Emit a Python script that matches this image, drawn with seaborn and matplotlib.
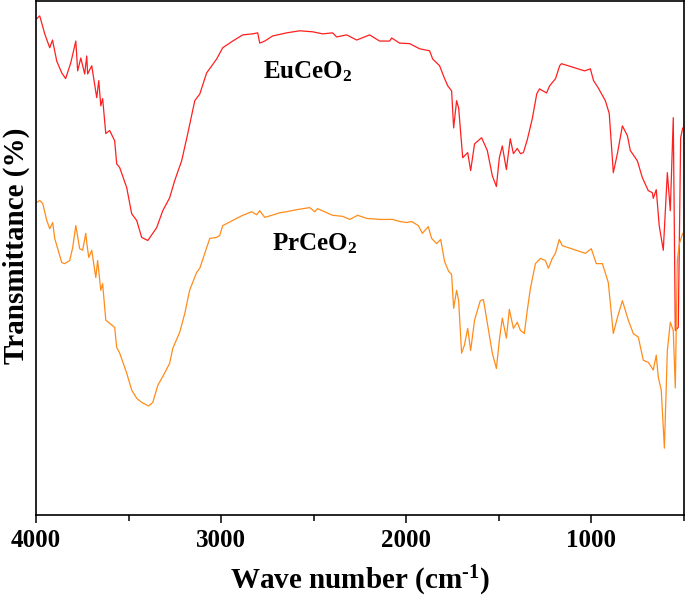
import numpy as np
import pandas as pd
import seaborn as sns
import matplotlib
matplotlib.use("Agg")
import matplotlib.pyplot as plt
from matplotlib.ticker import MultipleLocator, NullLocator

# EuCeO2 spectrum (wave number in cm-1, transmittance in arbitrary %)
eu_wn = [3998, 3980, 3953, 3926, 3911, 3888, 3861, 3840, 3812, 3785, 3775, 3758,
         3737, 3726, 3721, 3699, 3672, 3661, 3650, 3640, 3623, 3602, 3575, 3564,
         3548, 3510, 3483, 3456, 3429, 3396, 3369, 3348, 3315, 3278, 3251, 3213,
         3180, 3142, 3115, 3078, 3024, 2991, 2937, 2883, 2829, 2802, 2791, 2764,
         2721, 2645, 2575, 2505, 2451, 2397, 2375, 2321, 2267, 2197, 2143, 2089,
         2078, 2035, 1981, 1927, 1873, 1856, 1819, 1792, 1775, 1754, 1743, 1727,
         1716, 1694, 1667, 1651, 1630, 1592, 1561, 1534, 1512, 1496, 1480, 1458,
         1437, 1420, 1399, 1382, 1366, 1345, 1318, 1294, 1279, 1241, 1224, 1192,
         1170, 1160, 1089, 1035, 1004, 987, 965, 923, 902, 880, 858, 831, 804, 788,
         750, 723, 691, 669, 664, 648, 632, 610, 588, 572, 556, 545, 529, 516, 505]
eu_t = [96.5, 97.1, 93.6, 90.9, 92.4, 88.3, 86.0, 84.9, 88.0, 92.2, 86.4, 88.9,
        85.8, 89.3, 85.8, 87.4, 81.2, 84.5, 79.6, 81.0, 74.2, 74.8, 72.8, 68.3,
        67.6, 63.7, 58.6, 57.3, 54.0, 53.4, 54.8, 55.9, 59.2, 61.7, 65.0, 68.9,
        74.2, 80.6, 81.9, 86.0, 88.7, 90.9, 92.2, 93.4, 93.6, 93.8, 91.8, 92.2,
        93.2, 93.8, 94.2, 94.0, 93.6, 93.8, 93.0, 93.4, 92.4, 93.4, 92.2, 92.2,
        92.8, 91.8, 91.7, 90.7, 90.3, 88.7, 87.4, 84.9, 83.5, 82.5, 75.3, 80.6,
        79.2, 69.5, 70.5, 67.0, 72.2, 73.4, 70.9, 66.0, 63.9, 69.5, 71.8, 67.2,
        73.2, 70.3, 71.3, 70.3, 70.5, 73.0, 77.1, 81.9, 82.9, 82.1, 83.5, 84.9,
        87.4, 87.8, 87.0, 86.4, 86.8, 84.5, 83.3, 80.6, 78.1, 66.6, 70.3, 75.7,
        73.8, 70.9, 68.9, 65.6, 63.1, 62.7, 61.6, 63.3, 56.3, 51.5, 66.6, 59.2,
        77.3, 35.9, 36.5, 73.4, 75.3]

# PrCeO2 spectrum
pr_wn = [3996, 3980, 3964, 3942, 3926, 3910, 3899, 3883, 3861, 3845, 3818, 3802,
         3785, 3764, 3748, 3731, 3726, 3715, 3699, 3677, 3667, 3650, 3640, 3623,
         3602, 3575, 3564, 3548, 3510, 3483, 3456, 3429, 3413, 3391, 3369, 3342,
         3305, 3278, 3261, 3224, 3196, 3170, 3132, 3115, 3061, 3024, 3007, 2991,
         2937, 2883, 2834, 2807, 2791, 2764, 2726, 2683, 2645, 2591, 2521, 2494,
         2478, 2429, 2397, 2343, 2305, 2262, 2213, 2143, 2073, 2035, 1997, 1970,
         1934, 1912, 1880, 1862, 1835, 1813, 1792, 1770, 1754, 1743, 1727, 1716,
         1700, 1685, 1667, 1651, 1630, 1599, 1582, 1561, 1534, 1512, 1496, 1480,
         1458, 1442, 1420, 1399, 1382, 1361, 1345, 1328, 1301, 1274, 1247, 1231,
         1210, 1193, 1172, 1156, 1031, 999, 972, 939, 907, 880, 858, 831, 799, 772,
         745, 718, 691, 664, 648, 637, 621, 604, 588, 572, 556, 545, 534, 523, 505]
pr_t = [60.8, 61.2, 60.6, 57.3, 55.7, 56.9, 53.8, 51.8, 49.1, 48.9, 49.5, 52.0,
        56.3, 51.8, 51.5, 54.8, 53.0, 50.1, 51.5, 46.2, 49.5, 43.7, 45.0, 37.9,
        37.3, 36.5, 32.6, 31.5, 27.6, 24.3, 22.7, 21.9, 21.6, 21.2, 21.9, 25.2,
        27.6, 29.5, 32.4, 35.5, 39.2, 43.7, 47.2, 48.0, 53.8, 54.0, 54.4, 56.3,
        57.3, 58.3, 59.0, 58.4, 59.2, 57.9, 58.3, 58.8, 59.0, 59.4, 59.8, 59.0,
        59.6, 58.8, 58.3, 58.1, 57.5, 58.3, 57.7, 57.5, 57.5, 57.1, 56.9, 57.1,
        56.3, 54.8, 56.1, 53.8, 52.8, 53.6, 49.3, 47.4, 46.8, 40.2, 43.7, 41.7,
        31.5, 33.0, 36.3, 32.0, 37.9, 41.7, 41.9, 37.3, 31.5, 28.5, 34.0, 38.3,
        34.4, 40.0, 36.3, 37.5, 35.9, 35.3, 39.8, 44.1, 48.9, 49.9, 49.5, 48.0,
        49.9, 50.9, 53.6, 52.4, 50.9, 51.8, 48.9, 48.9, 45.2, 35.3, 38.4, 41.7,
        37.9, 35.3, 34.6, 30.1, 29.7, 28.2, 31.1, 26.8, 24.3, 13.0, 32.0, 37.5,
        35.9, 24.7, 49.5, 52.8, 54.8]

samples = ["EuCeO2", "PrCeO2"]
colors = {"EuCeO2": "#ff1f1f", "PrCeO2": "#ff8c1a"}

df = pd.concat([
    pd.DataFrame({"wn": eu_wn, "T": eu_t, "sample": "EuCeO2"}),
    pd.DataFrame({"wn": pr_wn, "T": pr_t, "sample": "PrCeO2"}),
])

sns.set_style("ticks")
plt.rcParams["font.family"] = ["Liberation Serif", "DejaVu Serif"]
plt.rcParams["font.weight"] = "bold"
plt.rcParams["text.color"] = "black"
plt.rcParams["axes.labelcolor"] = "black"
plt.rcParams["xtick.color"] = "black"
plt.rcParams["axes.edgecolor"] = "black"
plt.rcParams["mathtext.fontset"] = "custom"
plt.rcParams["mathtext.rm"] = "Liberation Serif:bold"
plt.rcParams["mathtext.it"] = "Liberation Serif:bold"
plt.rcParams["mathtext.bf"] = "Liberation Serif:bold"

fig = plt.figure(figsize=(6.85, 6.05), dpi=100)
ax = fig.add_axes([0.0526, 0.1488, 0.9454, 0.8496])

sns.lineplot(data=df, x="wn", y="T", hue="sample", palette=colors,
             estimator=None, linewidth=0.9, legend=False, ax=ax)

ax.set_xlim(4000, 500)
ax.set_ylim(0, 100)
ax.xaxis.set_major_locator(MultipleLocator(1000))
ax.xaxis.set_minor_locator(MultipleLocator(500))
ax.yaxis.set_major_locator(NullLocator())
ax.tick_params(axis="x", which="major", direction="out", length=6, width=1.1,
               pad=4, labelsize=18, colors="black")
ax.tick_params(axis="x", which="minor", direction="out", length=4, width=1.1,
               colors="black")
for s in ax.spines.values():
    s.set_linewidth(1.2)
    s.set_color("black")
for lab in ax.get_xticklabels():
    lab.set_fontweight("bold")

ax.set_xlabel("Wave number (cm$\\mathregular{^{\\text{-}1}}$)", fontsize=21,
              fontweight="bold")
ax.set_ylabel("Transmittance (%)", fontsize=21, fontweight="bold")
ax.xaxis.set_label_coords(0.5, -0.095)
ax.yaxis.set_label_coords(-0.010, 0.523)

ax.text(2773, 85.0, "EuCeO$_2$", fontsize=18, fontweight="bold",
        ha="left", va="baseline")
ax.text(2726, 51.5, "PrCeO$_2$", fontsize=18, fontweight="bold",
        ha="left", va="baseline")

fig.savefig("out.png", dpi=100)
